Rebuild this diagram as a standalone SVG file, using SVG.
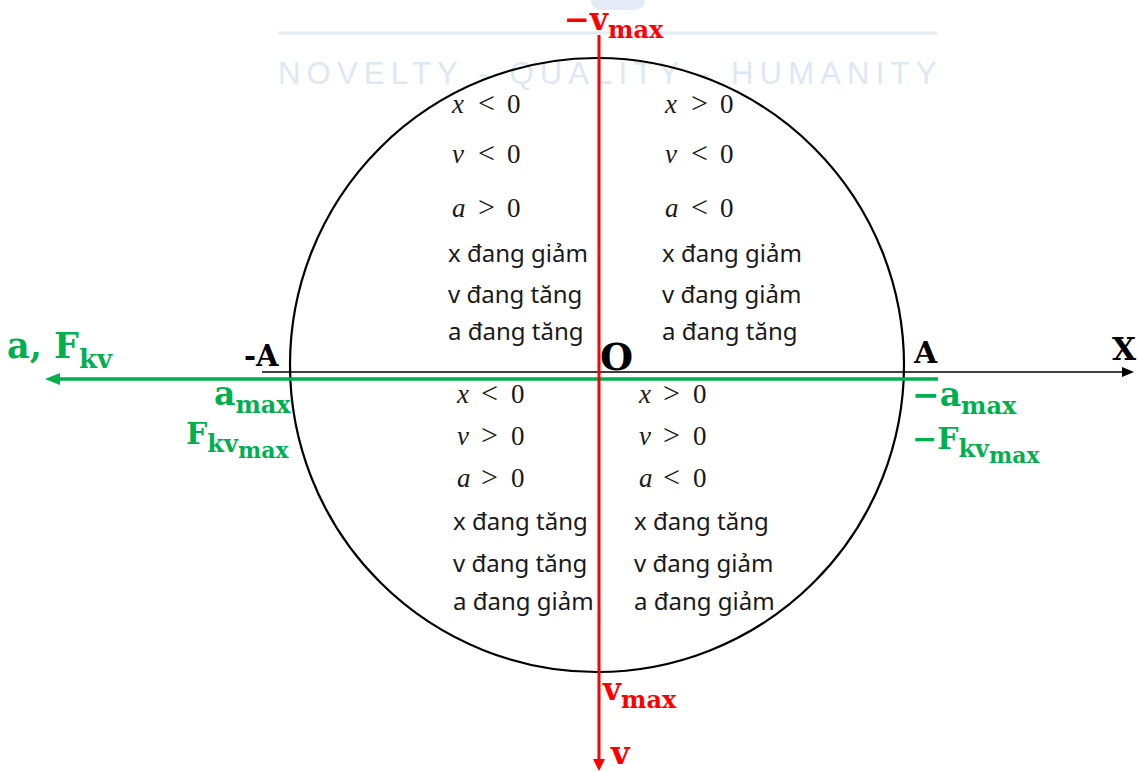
<svg xmlns="http://www.w3.org/2000/svg" width="1138" height="771" viewBox="0 0 1138 771">
<defs>
<style>
.lab{font-family:"DejaVu Serif","Liberation Serif",serif;font-weight:bold}
.g{fill:#00b050}
.r{fill:#ff0000}
.k{fill:#000}
.m{font-family:"Liberation Serif","DejaVu Serif",serif;font-size:27px;fill:#1a1a1a}
.rel{font-size:30px}
.t{font-family:"Noto Sans","Liberation Sans",sans-serif;font-size:24px;fill:#1a1a1a}
.wm{font-family:"Liberation Sans","DejaVu Sans",sans-serif;font-size:31px;fill:#dde8f4;letter-spacing:6.2px}
</style>
<marker id="ar" viewBox="0 0 12 12" refX="0" refY="6" markerWidth="12" markerHeight="12" markerUnits="userSpaceOnUse" orient="auto"><path d="M0,0 L12,6 L0,12 Z" fill="#ff0000"/></marker>
<marker id="ak" viewBox="0 0 12 10" refX="0" refY="5" markerWidth="12" markerHeight="10" markerUnits="userSpaceOnUse" orient="auto"><path d="M0,0 L12,5 L0,10 Z" fill="#000"/></marker>
<marker id="ag" viewBox="0 0 15 12" refX="0" refY="6" markerWidth="15" markerHeight="12" markerUnits="userSpaceOnUse" orient="auto"><path d="M0,0 L15,6 L0,12 Z" fill="#00b050"/></marker>
</defs>
<rect width="1138" height="771" fill="#fff"/>
<g id="watermark">
<path d="M591,0 L645,0 Q645,10 632,10 L603,10 Q591,10 591,0 Z" fill="#e3ecf6"/>
<line x1="278" y1="33" x2="937" y2="33" stroke="#e3ecf6" stroke-width="3"/>
<text class="wm" x="278" y="84">NOVELTY - QUALITY - HUMANITY</text>
</g>
<g id="circle">
<circle cx="597" cy="365" r="307" fill="none" stroke="#000" stroke-width="2.2"/>
</g>
<g id="connectors">
<line x1="262" y1="372" x2="1122" y2="372" stroke="#000" stroke-width="1.5" marker-end="url(#ak)"/>
<line x1="938" y1="379" x2="60" y2="379" stroke="#00b050" stroke-width="3.5" marker-end="url(#ag)"/>
<line x1="599" y1="35" x2="599" y2="759" stroke="#ff0000" stroke-width="3" marker-end="url(#ar)"/>
</g>
<g id="axis-labels">
<text class="lab r" x="564" y="30" font-size="31">−v<tspan font-size="24" dy="8">max</tspan></text>
<text class="lab r" x="603" y="700" font-size="31">v<tspan font-size="24" dy="8">max</tspan></text>
<text class="lab r" x="611" y="764" font-size="32">v</text>
<text class="lab k" x="244" y="366" font-size="29">-A</text>
<text class="lab k" x="914" y="363" font-size="30">A</text>
<text class="lab k" x="1112" y="360" font-size="31">X</text>
<text class="lab k" x="600" y="370" font-size="38">O</text>
<text class="lab g" x="7" y="358" font-size="35">a, F<tspan font-size="26" dy="10">kv</tspan></text>
<text class="lab g" x="214" y="405" font-size="33">a<tspan font-size="24" dy="8">max</tspan></text>
<text class="lab g" x="186" y="444" font-size="30">F<tspan font-size="24" dy="8">kv</tspan><tspan font-size="22" dy="6">max</tspan></text>
<text class="lab g" x="912" y="406" font-size="33">−a<tspan font-size="24" dy="8">max</tspan></text>
<text class="lab g" x="912" y="449" font-size="30">−F<tspan font-size="24" dy="8">kv</tspan><tspan font-size="22" dy="6">max</tspan></text>
</g>
<g id="q-top-left">
<text class="m" y="113"><tspan x="452" font-style="italic">x</tspan><tspan class="rel" x="478">&lt;</tspan><tspan x="507">0</tspan></text>
<text class="m" y="163"><tspan x="452" font-style="italic">v</tspan><tspan class="rel" x="478">&lt;</tspan><tspan x="507">0</tspan></text>
<text class="m" y="217"><tspan x="452" font-style="italic">a</tspan><tspan class="rel" x="478">&gt;</tspan><tspan x="507">0</tspan></text>
<text class="t" x="448" y="262">x đang giảm</text>
<text class="t" x="448" y="303">v đang tăng</text>
<text class="t" x="448" y="340">a đang tăng</text>
</g>
<g id="q-top-right">
<text class="m" y="113"><tspan x="665" font-style="italic">x</tspan><tspan class="rel" x="691">&gt;</tspan><tspan x="720">0</tspan></text>
<text class="m" y="163"><tspan x="665" font-style="italic">v</tspan><tspan class="rel" x="691">&lt;</tspan><tspan x="720">0</tspan></text>
<text class="m" y="217"><tspan x="665" font-style="italic">a</tspan><tspan class="rel" x="691">&lt;</tspan><tspan x="720">0</tspan></text>
<text class="t" x="662" y="262">x đang giảm</text>
<text class="t" x="662" y="303">v đang giảm</text>
<text class="t" x="662" y="340">a đang tăng</text>
</g>
<g id="q-bottom-left">
<text class="m" y="403"><tspan x="457" font-style="italic">x</tspan><tspan class="rel" x="481">&lt;</tspan><tspan x="511">0</tspan></text>
<text class="m" y="445"><tspan x="457" font-style="italic">v</tspan><tspan class="rel" x="481">&gt;</tspan><tspan x="511">0</tspan></text>
<text class="m" y="487"><tspan x="457" font-style="italic">a</tspan><tspan class="rel" x="481">&gt;</tspan><tspan x="511">0</tspan></text>
<text class="t" x="453" y="530">x đang tăng</text>
<text class="t" x="453" y="572">v đang tăng</text>
<text class="t" x="453" y="610">a đang giảm</text>
</g>
<g id="q-bottom-right">
<text class="m" y="403"><tspan x="639" font-style="italic">x</tspan><tspan class="rel" x="663">&gt;</tspan><tspan x="693">0</tspan></text>
<text class="m" y="445"><tspan x="639" font-style="italic">v</tspan><tspan class="rel" x="663">&gt;</tspan><tspan x="693">0</tspan></text>
<text class="m" y="487"><tspan x="639" font-style="italic">a</tspan><tspan class="rel" x="663">&lt;</tspan><tspan x="693">0</tspan></text>
<text class="t" x="634" y="530">x đang tăng</text>
<text class="t" x="634" y="572">v đang giảm</text>
<text class="t" x="634" y="610">a đang giảm</text>
</g>
</svg>
